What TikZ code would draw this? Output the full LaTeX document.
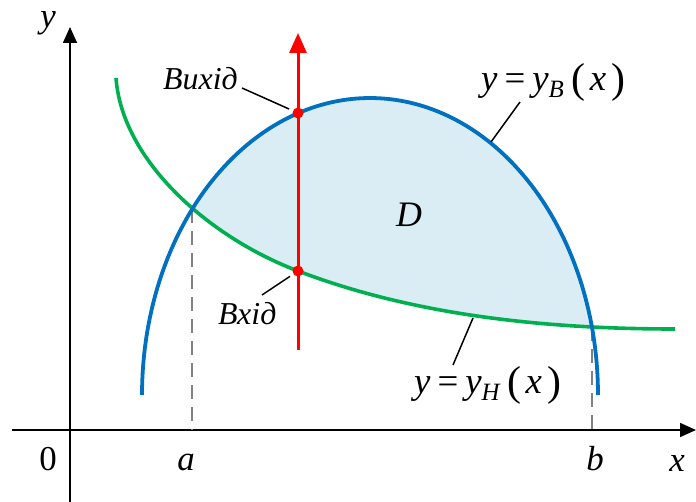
\documentclass[tikz,border=0pt]{standalone}
\usepackage{fontspec}
\setmainfont{Liberation Serif}
\usetikzlibrary{arrows.meta, positioning}
\definecolor{curveblue}{HTML}{0070C0}
\definecolor{curvegreen}{HTML}{00B050}
\definecolor{regionfill}{HTML}{DAEDF4}
\newcommand{\sub}[1]{\raisebox{-7bp}{\fontsize{25}{27}\selectfont\itshape #1}}
\newcommand{\bigpar}[1]{\raisebox{-2bp}{\fontsize{42}{46}\selectfont\upshape #1}}
\newcommand{\curvelabel}[1]{\itshape y\hspace{7bp}\textup{=}\hspace{7bp}y\sub{#1}\hspace{8bp}\bigpar{(}\hspace{4bp}x\hspace{5bp}\bigpar{)}}
\begin{document}
\begin{tikzpicture}[
    x=1bp, y=-1bp,
    axis/.style={line width=1.5bp, -{Triangle[length=16bp, width=14bp]}},
    upper/.style={line width=3.8bp, curveblue},
    lower/.style={line width=3.6bp, curvegreen},
    guide/.style={dash pattern=on 14bp off 8bp, black!50, line width=1.6bp},
    leader/.style={line width=1.5bp, black},
    ray/.style={line width=3bp, red, -{Triangle[length=20bp, width=17bp]}},
    hit/.style={circle, fill=red, inner sep=0pt, minimum size=11bp},
    word/.style={font=\fontsize{32}{36}\selectfont\itshape, inner sep=0pt},
    lbl/.style={font=\fontsize{35}{40}\selectfont, inner sep=0pt},
    eqn/.style={font=\fontsize{37}{42}\selectfont, inner sep=0pt}
]
\useasboundingbox (0,0) rectangle (696,502);
% region D
\begin{scope}
  \clip (116,78) .. controls (122,160) and (208,237) .. (298,271)
      .. controls (408,313) and (535,329) .. (675,329)
      -- (696,329) -- (696,0) -- (116,0) -- cycle;
  \fill[regionfill] plot[domain=180:360, samples=120] ({370+228*cos(\x)}, {395+297*sin(\x)}) -- cycle;
\end{scope}
% axes
\coordinate (O) at (70,430);
\coordinate (xend) at (696,430);
\coordinate (xstart) at (12,430);
\coordinate (ybot) at (70,502);
\coordinate (yend) at (70,27);
\draw[axis] (xstart) -- (xend);
\draw[axis] (ybot) -- (yend);
\node[lbl, anchor=base] (zero) at (48,470) {0};
\node[lbl, anchor=base] (xlbl) at (677,471) {\itshape x};
\node[lbl, anchor=base] (ylbl) at (48,28) {\itshape y};
% bounds
\coordinate (A) at (192,209);
\coordinate (B) at (592,327);
\coordinate (Ax) at (192,430);
\coordinate (Bx) at (592,430);
\draw[guide] (A) -- (Ax);
\draw[guide] (B) -- (Bx);
\node[lbl, anchor=base] (alab) at (186,470) {\itshape a};
\node[lbl, anchor=base] (blab) at (595,470) {\itshape b};
% curves
\draw[lower] (116,78) .. controls (122,160) and (208,237) .. (298,271)
    .. controls (408,313) and (535,329) .. (675,329);
\draw[upper] plot[domain=180:360, samples=120] ({370+228*cos(\x)}, {395+297*sin(\x)});
% vertical ray
\coordinate (rayfoot) at (298,350);
\coordinate (raytip) at (298,33);
\draw[ray] (rayfoot) -- (raytip);
\node[hit] (exitpt) at (298,113) {};
\node[hit] (entrypt) at (298,271) {};
\node[word, anchor=base west] (exitlbl) at (163,90) {Вихід};
\node[word, anchor=base west] (entrylbl) at (218,324) {Вхід};
\coordinate (exitleg) at (242,88);
\coordinate (entryleg) at (262,295);
\draw[leader, shorten >=4bp] (exitleg) -- (exitpt);
\draw[leader, shorten >=4bp] (entryleg) -- (entrypt);
% curve labels
\node[eqn, anchor=base west] (upperlbl) at (481,91) {\curvelabel{B}};
\node[eqn, anchor=base west] (lowerlbl) at (414,393) {\curvelabel{H}};
\coordinate (upperleg) at (520,102);
\coordinate (upperfoot) at (491,142);
\coordinate (lowerleg) at (453,365);
\coordinate (lowerfoot) at (473,318);
\draw[leader] (upperleg) -- (upperfoot);
\draw[leader] (lowerleg) -- (lowerfoot);
\node[lbl, anchor=base, font=\fontsize{36}{40}\selectfont\itshape] (dlbl) at (409,227) {D};
\end{tikzpicture}
\end{document}
